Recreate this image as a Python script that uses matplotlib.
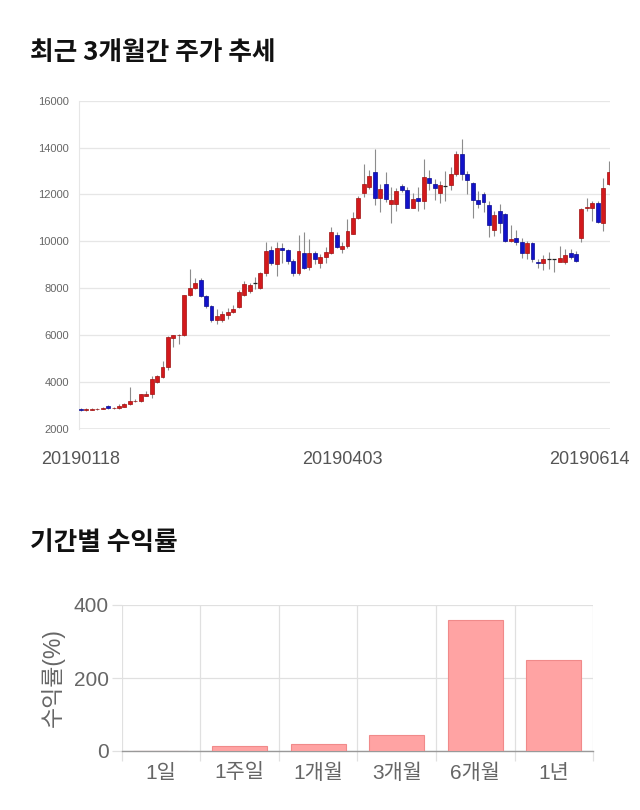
import numpy as np
import matplotlib
matplotlib.use('Agg')
from matplotlib import pyplot as plt
from matplotlib.transforms import ScaledTranslation

plt.rcParams['font.family'] = ['Liberation Sans', 'Noto Sans CJK KR', 'DejaVu Sans']

# daily candles, 20190118 .. 20190614
dates = ['20190118', '20190403', '20190614']
opens = [2850, 2790, 2810, 2830, 2840, 2970, 2870, 2890, 2940, 3040,
         3170, 3170, 3410, 3470, 4000, 4210, 4640, 5870, 5980, 5990,
         7690, 8010, 8350, 7650, 7230, 6650, 6650, 6860, 7000, 7210,
         7720, 7890, 8230, 8010, 8630, 9610, 9010, 9720, 9640, 9160,
         8650, 9500, 8900, 9510, 9070, 9310, 9500, 10260, 9670, 9780,
         10330, 11000, 12080, 12330, 12960, 11840, 12450, 11580, 11580, 12350,
         12190, 11440, 11850, 11740, 12690, 12430, 12050, 12350, 12390, 12860,
         13710, 12860, 12500, 11770, 12010, 11550, 10490, 11300, 11160, 10010,
         10160, 9990, 9480, 9910, 9130, 9060, 9240, 9240, 9100, 9100,
         9480, 9460, 10140, 11400, 11440, 11650, 10800, 12430]
closes = [2790, 2830, 2840, 2860, 2890, 2870, 2890, 2950, 3040, 3170,
          3200, 3460, 3500, 4140, 4240, 4640, 5920, 5980, 6020, 7690,
          8010, 8200, 7650, 7230, 6660, 6830, 6900, 7000, 7110, 7850,
          8160, 8130, 8230, 8660, 9580, 9090, 9710, 9640, 9140, 8650,
          9580, 8860, 9500, 9240, 9310, 9550, 10400, 9740, 9810, 10450,
          11000, 11850, 12450, 12790, 11840, 12250, 11800, 11770, 12150, 12200,
          11440, 11800, 11740, 12740, 12490, 12290, 12390, 12350, 12860, 13710,
          12860, 12600, 11750, 11580, 11690, 10690, 11100, 10800, 10010, 10090,
          9980, 9480, 9910, 9240, 9060, 9240, 9240, 9240, 9280, 9410,
          9350, 9140, 11370, 11470, 11650, 10840, 12260, 12970]
highs = [2880, 2880, 2900, 2880, 2920, 3000, 2930, 3070, 3080, 3780,
         3250, 3500, 3600, 4240, 4280, 4890, 5950, 6020, 6050, 7720,
         8820, 8420, 8420, 7700, 7260, 7100, 7030, 7170, 7300, 7900,
         8300, 8200, 8460, 8700, 9990, 9810, 9990, 9930, 9680, 9250,
         10250, 10390, 10100, 9580, 9450, 9750, 10620, 10400, 9950, 10940,
         11270, 11950, 13280, 13060, 13950, 12450, 12960, 12300, 12280, 12450,
         12300, 12050, 12300, 13500, 13060, 12640, 12570, 13000, 13180, 13850,
         14350, 13000, 12550, 12150, 12100, 11700, 11300, 11580, 11200, 10690,
         10500, 10150, 10030, 9950, 9240, 9420, 9560, 9260, 9800, 9650,
         9650, 9600, 11400, 11840, 11700, 11700, 12690, 13430]
lows = [2760, 2750, 2780, 2800, 2820, 2850, 2850, 2860, 2920, 3010,
        3140, 3140, 3380, 3290, 3950, 4150, 4500, 5480, 5620, 5950,
        7650, 7950, 7600, 7150, 6560, 6450, 6560, 6690, 6950, 7150,
        7680, 7800, 7970, 7950, 8520, 9000, 8530, 9060, 9050, 8520,
        8540, 8800, 8780, 9030, 8850, 9070, 9450, 9700, 9500, 9720,
        10300, 10950, 11890, 12250, 11550, 11260, 11690, 10770, 11310, 12100,
        11400, 11400, 11300, 11370, 12200, 11780, 11620, 11720, 12190, 12800,
        12600, 12010, 11010, 11400, 11230, 10200, 10230, 10370, 9990, 9970,
        9850, 9270, 9230, 9100, 8850, 8790, 8830, 8670, 9140, 9050,
        9250, 9100, 9990, 11300, 10870, 10800, 10450, 12400]

# period returns (%)
periods = ['1일', '1주일', '1개월', '3개월', '6개월', '1년']
returns = [0, 13, 19, 42.5, 359, 249]

fig = plt.figure(figsize=(6.4, 8.1), dpi=100)

fig.text(30 / 640, 1 - 52 / 810, '최근 3개월간 주가 추세', fontsize=18.5, fontweight='bold',
         family=['Noto Sans CJK KR'], va='center', ha='left', color='#111111')
fig.text(30 / 640, 1 - 543 / 810, '기간별 수익률', fontsize=18.5, fontweight='bold',
         family=['Noto Sans CJK KR'], va='center', ha='left', color='#111111')

# ---- candlestick chart ----
ax = fig.add_axes([79 / 640, 1 - 428.7 / 810, 531 / 640, 328 / 810])
n = len(opens)
x = np.arange(n)
o = np.array(opens)
c = np.array(closes)
up = c > o
down = c < o
flat = c == o

ax.vlines(x, lows, highs, color='#8c8c8c', linewidth=0.8, zorder=2)
w = 0.72
ax.bar(x[up], (c - o)[up], bottom=o[up], width=w, color='#d3191c',
       edgecolor='#a01010', linewidth=0.5, zorder=3)
ax.bar(x[down], (o - c)[down], bottom=c[down], width=w, color='#1212c9',
       edgecolor='#0a0a90', linewidth=0.5, zorder=3)
ax.bar(x[flat], np.zeros(flat.sum()), bottom=o[flat], width=w, color='#222222',
       edgecolor='#222222', linewidth=0.9, zorder=3)

ax.set_ylim(2000, 16000)
ax.set_yticks(np.arange(2000, 16001, 2000))
ax.set_xlim(-0.35, n - 1 + 0.25)
ax.set_xticks([0, 48, n - 1])
ax.set_xticklabels(dates)
ax.grid(axis='y', color='#e6e6e6', linewidth=0.9)
ax.set_axisbelow(True)
for s in ['top', 'right', 'bottom']:
    ax.spines[s].set_visible(False)
ax.spines['left'].set_color('#e6e6e6')
ax.axhline(2000, color='#e6e6e6', linewidth=1.2, zorder=1)
ax.tick_params(axis='y', length=0, pad=7, labelsize=8, labelcolor='#666666')
ax.tick_params(axis='x', length=0, pad=16, labelsize=13, labelcolor='#555555')
last = ax.get_xticklabels()[-1]
last.set_transform(last.get_transform() + ScaledTranslation(-0.19, 0, fig.dpi_scale_trans))

# ---- period return bars ----
bx = fig.add_axes([121.7 / 640, 1 - 751 / 810, 471.5 / 640, 146 / 810])
pos = np.arange(len(periods))
bx.bar(pos, returns, width=0.7, color='#ffa3a3', edgecolor='#f08a8a', linewidth=0.8, zorder=3)
bx.set_xlim(-0.5, len(periods) - 0.5)
bx.set_ylim(0, 400)
bx.set_yticks([0, 200, 400])
bx.set_xticks(pos)
bx.set_xticklabels(periods)
bx.set_xticks(np.arange(len(periods) + 1) - 0.5, minor=True)
bx.grid(axis='x', which='minor', color='#e0e0e0', linewidth=0.9)
bx.grid(axis='y', which='major', color='#e0e0e0', linewidth=0.9)
bx.set_axisbelow(True)
for s in ['top', 'right', 'left']:
    bx.spines[s].set_visible(False)
bx.spines['bottom'].set_color('#999999')
bx.spines['bottom'].set_linewidth(1.0)
bx.tick_params(axis='x', which='major', length=0, pad=9, labelsize=15, labelcolor='#666666')
bx.tick_params(axis='x', which='minor', length=7.5, width=0.9, color='#e0e0e0')
bx.tick_params(axis='y', length=7.5, width=0.9, color='#e0e0e0', pad=2,
               labelsize=15, labelcolor='#666666')
bx.set_ylabel('수익률(%)', fontsize=16.5, color='#666666', labelpad=6)

fig.savefig('out.png', dpi=100)
